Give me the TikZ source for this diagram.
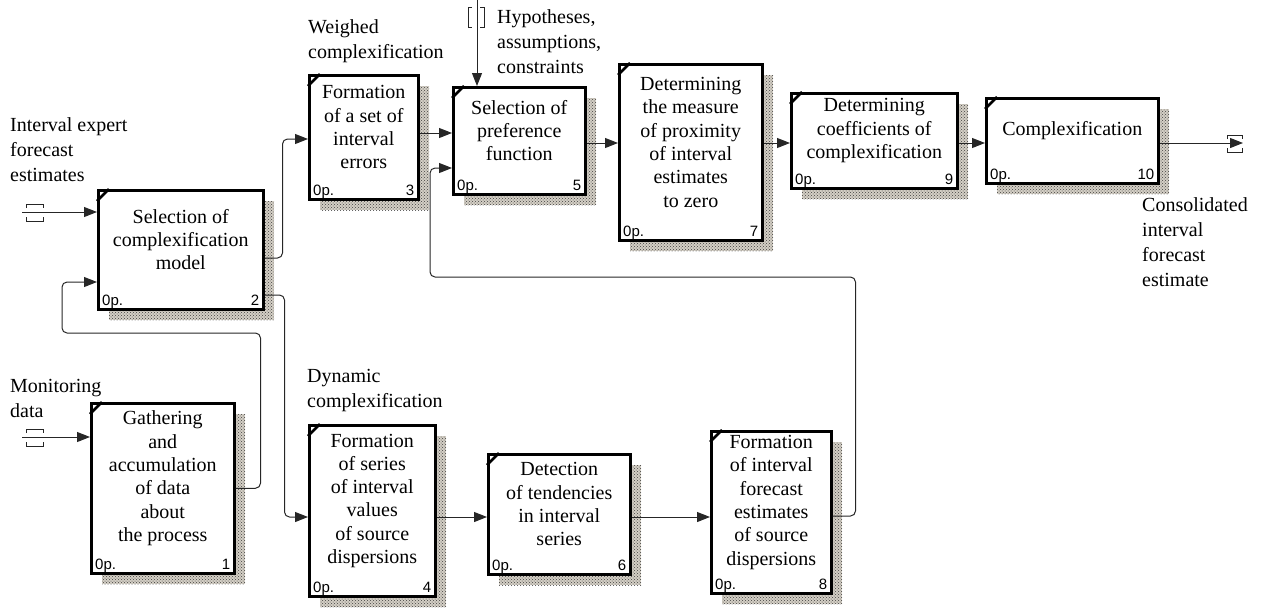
\documentclass[tikz,border=0pt]{standalone}
\usepackage{fontspec}
\setmainfont{Liberation Serif}
\newfontfamily\tagfont{Liberation Sans}
\usetikzlibrary{positioning,arrows.meta,patterns}

\definecolor{shadebase}{RGB}{212,207,197}

\tikzset{
	shade/.style={fill=shadebase, postaction={pattern=crosshatch dots, pattern color=black!75}},
	box/.style={draw, line width=2.5pt, fill=white, anchor=north west, inner sep=0pt},
	boxtext/.style={align=center, inner sep=0pt, font=\fontsize{20pt}{23.3pt}\selectfont},
	note/.style={align=left, anchor=north west, inner sep=0pt, font=\fontsize{20pt}{25pt}\selectfont},
	tag/.style={inner sep=0pt, font=\tagfont\fontsize{15pt}{15pt}\selectfont},
	flow/.style={line width=1pt, draw=black!85, rounded corners=5pt, -{Triangle[length=13pt,width=10pt]}},
	tunnel/.style={line width=1pt, draw=black!85},
}

\newcommand{\actbox}[7]{%
	\fill[shade] (#2+12,#3+12) rectangle ++(#4,#5);
	\node (#1) [box, minimum width=#4pt, minimum height=#5pt] at (#2,#3) {};
	\draw[line width=2.5pt] ([yshift=-12pt]#1.north west) -- ([xshift=12pt]#1.north west);
	\node (#1t) [boxtext] at ([yshift=10pt]#1.center) {#6};
	\node (#1o) [tag, anchor=base west] at ([xshift=5pt,yshift=5pt]#1.south west) {0p.};
	\node (#1n) [tag, anchor=base east] at ([xshift=-5pt,yshift=5pt]#1.south east) {#7};
}

\begin{document}
\begin{tikzpicture}[x=1pt,y=-1pt]
	\useasboundingbox (0,0) rectangle (1261,611);

	\actbox{b1}{90}{402}{143}{170}{Gathering\\and\\accumulation\\of data\\about\\the process}{1}
	\actbox{b2}{97}{189}{165}{119}{Selection of\\complexification\\model}{2}
	\actbox{b3}{308}{74}{109}{124}{Formation\\of a set of\\interval\\errors}{3}
	\actbox{b4}{308}{424}{126}{171}{Formation\\of series\\of interval\\values\\of source\\dispersions}{4}
	\actbox{b5}{452}{86}{132}{107}{Selection of\\preference\\function}{5}
	\actbox{b6}{487}{453}{142}{120}{Detection\\of tendencies\\in interval\\series}{6}
	\actbox{b7}{618}{63}{143}{176}{Determining\\the measure\\of proximity\\of interval\\estimates\\to zero}{7}
	\actbox{b8}{710}{430}{120}{162}{Formation\\of interval\\forecast\\estimates\\of source\\dispersions}{8}
	\actbox{b9}{790}{92}{166}{95}{Determining\\coefficients of\\complexification}{9}
	\actbox{b10}{985}{97}{172}{85}{Complexification}{10}

	\node (inA)  [note] at (10,117)  {Interval expert\\forecast\\estimates};
	\node (inB)  [note] at (10,379)  {Monitoring\\data};
	\node (wc)   [note] at (308,19)  {Weighed\\complexification};
	\node (dc)   [note] at (307,369) {Dynamic\\complexification};
	\node (hyp)  [note] at (497,9)   {Hypotheses,\\assumptions,\\constraints};
	\node (cons) [note] at (1142,197) {Consolidated\\interval\\forecast\\estimate};

	\coordinate (srcA) at (22,212);
	\coordinate (srcB) at (22,437);
	\coordinate (ctl)  at (477,0);
	\coordinate (out)  at (1243,143);

	\draw[tunnel] (26,208) |- (43,204) -- (43,208);
	\draw[tunnel] (26,217) |- (43,221) -- (43,217);
	\draw[tunnel] (26,433) |- (43,429) -- (43,433);
	\draw[tunnel] (26,442) |- (43,446) -- (43,442);
	\draw[tunnel] (472,7) -| (468,27) -- (472,27);
	\draw[tunnel] (480,7) -| (484,27) -- (480,27);
	\draw[tunnel] (1227,139) |- (1242,135) -- (1242,139);
	\draw[tunnel] (1227,148) |- (1242,152) -- (1242,148);

	\draw[flow] (srcA) -- (b2.west |- srcA);
	\draw[flow] (srcB) -- (b1.west |- srcB);
	\draw[flow] (ctl) -- (b5.north -| ctl);
	\draw[flow] (b1.east) -- ++(25,0) |- (62,333) |- (b2.west |- 0,282);
	\draw[flow] (b2.east |- 0,258) -- ++(18,0) |- (b3.west |- 0,139);
	\draw[flow] (b2.east |- 0,295) -- ++(20,0) |- (b4.west |- 0,517);
	\draw[flow] (b3.east |- 0,133) -- (b5.west |- 0,133);
	\draw[flow] (b8.east |- 0,516) -- ++(23,0) |- (430,277) |- (b5.west |- 0,168);
	\draw[flow] (b5.east |- 0,143) -- (b7.west |- 0,143);
	\draw[flow] (b7.east |- 0,143) -- (b9.west |- 0,143);
	\draw[flow] (b9.east |- 0,143) -- (b10.west |- 0,143);
	\draw[flow] (b10.east |- out) -- (out);
	\draw[flow] (b4.east |- 0,517) -- (b6.west |- 0,517);
	\draw[flow] (b6.east |- 0,517) -- (b8.west |- 0,517);
\end{tikzpicture}
\end{document}
